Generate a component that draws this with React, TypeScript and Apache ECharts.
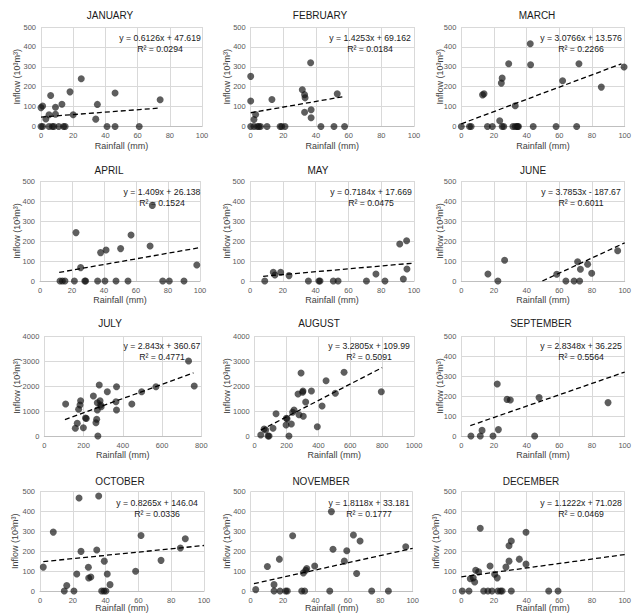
import React, { useEffect, useRef } from "react";
import * as echarts from "echarts";

const monthNames = ["JANUARY", "FEBRUARY", "MARCH", "APRIL", "MAY", "JUNE", "JULY", "AUGUST", "SEPTEMBER", "OCTOBER", "NOVEMBER", "DECEMBER"];

const janData = [[0, 95], [1, 103], [3, 38], [5, 59], [6, 156], [9, 97], [9, 62], [13, 112], [18, 174], [20, 59], [25, 240], [34, 37], [35, 111], [46, 168], [74, 134], [0, 0], [1, 0], [5, 0], [7, 0], [8, 0], [11, 0], [14, 0], [15, 0], [41, 0], [46, 0], [61, 0]];
const febData = [[0, 252], [0, 128], [2, 35], [3, 60], [13, 136], [31.6, 185], [33, 160], [33.3, 144], [36.7, 320], [33, 72], [37, 84], [37, 44], [53, 164], [0, 0], [2, 0], [4, 0], [5, 0], [6, 0], [10, 0], [18, 0], [19, 0], [21, 0], [43, 0], [51, 0], [57.5, 0]];
const marData = [[13, 159], [13.9, 164], [24.5, 218], [25, 243], [29, 315], [33, 104], [23.5, 29], [42.2, 416], [42.4, 310], [62, 230], [72, 315], [85.7, 198], [99.6, 299], [0, 0], [5, 0], [6, 0], [16, 0], [19, 0], [25, 0], [26, 0], [31.6, 0], [33, 0], [34, 0], [34.5, 0], [35, 0], [44, 0], [58, 0], [70.6, 0]];
const aprData = [[22.5, 242], [25.4, 67], [37.9, 142], [41.3, 155], [50.4, 162], [56.9, 230], [68.8, 175], [70.2, 378], [98, 80], [12.5, 0], [14, 0], [15.6, 0], [21.5, 0], [28, 0], [28.5, 0], [36, 0], [40.6, 0], [47.5, 0], [55, 0], [76.7, 0], [80.8, 0], [90, 0]];
const mayData = [[14.2, 44], [15.2, 30], [18.7, 44], [23.8, 27], [76.8, 35], [91.3, 185], [95.5, 201], [95.7, 60], [93.5, 10], [9, 0], [35.6, 0], [42, 0], [42.7, 0], [50.8, 0], [53.7, 0], [71, 0], [82.3, 0]];
const junData = [[16.3, 35], [22.4, 0], [26.5, 104], [58.4, 34], [64, 0], [69, 0], [71.2, 96], [72.4, 0], [72.9, 59], [77.3, 84], [79.8, 39], [95.7, 151]];
const julData = [[108.7, 1280], [158, 307], [168, 507], [175, 1067], [182, 1240], [185, 1413], [199, 333], [210, 720], [214, 700], [250, 1600], [263, 533], [267, 667], [270, 1040], [270, 1333], [273, 0], [280, 2040], [284, 1413], [287, 1240], [290, 1173], [321, 1773], [365, 1373], [368, 1973], [368, 1040], [446, 1280], [496, 1773], [569, 1973], [735, 3000], [764, 2000]];
const augData = [[38, 40], [59, 280], [69, 240], [84, 0], [90, 0], [115, 307], [134, 893], [197, 440], [199, 707], [203, 693], [215, 0], [230, 480], [238, 947], [247, 1040], [278, 853], [272, 1680], [291, 2520], [301, 1747], [303, 1800], [305, 787], [320, 1360], [356, 1800], [393, 373], [423, 1200], [448, 2213], [506, 1707], [561, 2547], [795, 1773]];
const sepData = [[5.9, 0], [11.6, 0], [12.7, 28], [19.4, 0], [22, 260], [22.7, 32], [28, 183], [30, 180], [44.9, 0], [47.6, 192], [89.8, 167]];
const octData = [[2, 120], [8.1, 296], [14.8, 0], [16.3, 28], [20.7, 0], [22.4, 85], [23.8, 467], [25, 199], [29.5, 119], [29.7, 65], [31, 70], [34.6, 206], [35.8, 477], [37.6, 0], [39, 0], [40.2, 0], [39.2, 150], [41, 85], [42.7, 32], [58.3, 99], [61.6, 279], [73.8, 154], [85.6, 216], [88.6, 263]];
const novData = [[3.1, 7], [10.3, 123], [14.4, 32], [14.4, 0], [17.7, 160], [18.1, 0], [21.6, 0], [22.6, 0], [25.9, 278], [31.5, 0], [32.5, 91], [33.3, 0], [34, 104], [34.6, 113], [39.5, 126], [48.8, 0], [49.8, 399], [50.8, 210], [57.8, 150], [59.3, 202], [63.4, 281], [65.4, 88], [67.5, 251], [74.7, 0], [85, 0], [95.7, 222]];
const decData = [[0.6, 0], [4.7, 0], [5.5, 62], [7.3, 66], [8.2, 45], [8.8, 104], [10.6, 96], [11.6, 315], [13.7, 0], [16.3, 0], [17.6, 126], [18.8, 0], [20.4, 84], [22, 66], [22.4, 0], [24, 0], [25, 0], [27.3, 120], [29.2, 150], [29.2, 227], [30.6, 0], [30.6, 251], [35.5, 160], [39.6, 295], [39.6, 135], [53.5, 0], [59.2, 0]];

const monthData = [janData, febData, marData, aprData, mayData, junData, julData, augData, sepData, octData, novData, decData];

const slopes = [0.6126, 1.4253, 3.0766, 1.409, 0.7184, 3.7853, 2.843, 3.2805, 2.8348, 0.8265, 1.8118, 1.1222];
const intercepts = [47.619, 69.162, 13.576, 26.138, 17.669, -187.67, 360.67, 109.99, 36.225, 146.04, 33.181, 71.028];
const equations = [
  "y = 0.6126x + 47.619", "y = 1.4253x + 69.162", "y = 3.0766x + 13.576",
  "y = 1.409x + 26.138", "y = 0.7184x + 17.669", "y = 3.7853x - 187.67",
  "y = 2.843x + 360.67", "y = 3.2805x + 109.99", "y = 2.8348x + 36.225",
  "y = 0.8265x + 146.04", "y = 1.8118x + 33.181", "y = 1.1222x + 71.028",
];
const rSquared = ["0.0294", "0.0184", "0.2266", "0.1524", "0.0475", "0.6011", "0.4771", "0.5091", "0.5564", "0.0336", "0.1777", "0.0469"];
const trendStart = [0, 0, 0, 12, 8, 49.6, 105, 38, 5.5, 2, 2, 0];
const trendEnd = [74, 57, 98, 100, 100, 100, 760, 800, 100, 100, 100, 100];
const xMax = [100, 100, 100, 100, 100, 100, 800, 1000, 100, 100, 100, 100];
const xInterval = [20, 20, 20, 20, 20, 20, 200, 200, 20, 20, 20, 20];
const yMax = [500, 500, 500, 500, 500, 500, 4000, 4000, 500, 500, 500, 500];
const yInterval = [100, 100, 100, 100, 100, 100, 1000, 1000, 100, 100, 100, 100];

const xAxisName = "Rainfall (mm)";
const yAxisName = "Inflow (10³m³)";

// layout (pixels)
const rows = [
  { t: 27, b: 126.5, ty: 15, xn: 146, ey: 38 },
  { t: 181, b: 281, ty: 170, xn: 300, ey: 192 },
  { t: 336, b: 436, ty: 323, xn: 455, ey: 346 },
  { t: 491.5, b: 591, ty: 481, xn: 608, ey: 503 },
];
const cols = [
  { l: 41, r: 202, tx: 110, ex: 160, yn: 17 },
  { l: 250.7, r: 414, tx: 320, ex: 370, yn: 227 },
  { l: 461.3, r: 624.7, tx: 537, ex: 581, yn: 440 },
  { l: 40, r: 200, tx: 109, ex: 162, yn: 17 },
  { l: 250, r: 414, tx: 318, ex: 371, yn: 227 },
  { l: 461.3, r: 624.7, tx: 533, ex: 581, yn: 440 },
  { l: 44.3, r: 201.3, tx: 110, ex: 162, yn: 17 },
  { l: 254.7, r: 414, tx: 319, ex: 369, yn: 227 },
  { l: 461.3, r: 624.7, tx: 541, ex: 581, yn: 440 },
  { l: 40, r: 204, tx: 120, ex: 157, yn: 15 },
  { l: 250.7, r: 412.7, tx: 321, ex: 369, yn: 227 },
  { l: 461.3, r: 624.7, tx: 531, ex: 581, yn: 436 },
];

const FONT = "'Liberation Sans', Arial, sans-serif";

export default function App() {
  const ref = useRef<HTMLDivElement>(null);
  useEffect(() => {
    if (!ref.current) return;
    const chart = echarts.init(ref.current, null, { renderer: "svg" });
    const grid: any[] = [];
    const xAxis: any[] = [];
    const yAxis: any[] = [];
    const series: any[] = [];
    const graphic: any[] = [];
    const plain = (v: number) => String(v);
    for (let i = 0; i < 12; i++) {
      const row = rows[Math.floor(i / 3)];
      const c = cols[i];
      grid.push({ left: c.l, top: row.t, width: c.r - c.l, height: row.b - row.t, containLabel: false });
      xAxis.push({
        gridIndex: i, type: "value", min: 0, max: xMax[i], interval: xInterval[i],
        axisLine: { show: true, lineStyle: { color: "#bfbfbf", width: 1 } },
        axisTick: { show: false },
        splitLine: { show: true, lineStyle: { color: "#d9d9d9", width: 1 } },
        axisLabel: { color: "#595959", fontSize: 7.5, fontFamily: FONT, margin: 5, formatter: plain },
      });
      yAxis.push({
        gridIndex: i, type: "value", min: 0, max: yMax[i], interval: yInterval[i],
        axisLine: { show: false },
        axisTick: { show: false },
        splitLine: { show: true, lineStyle: { color: "#d9d9d9", width: 1 } },
        axisLabel: { color: "#595959", fontSize: 7.5, fontFamily: FONT, margin: 5, formatter: plain },
      });
      series.push({
        type: "scatter", xAxisIndex: i, yAxisIndex: i, data: monthData[i],
        symbolSize: 7, itemStyle: { color: "#111111", opacity: 0.68 },
      });
      const x0 = trendStart[i], x1 = trendEnd[i];
      series.push({
        type: "line", xAxisIndex: i, yAxisIndex: i, symbol: "none",
        data: [[x0, slopes[i] * x0 + intercepts[i]], [x1, slopes[i] * x1 + intercepts[i]]],
        lineStyle: { color: "#000000", width: 1.3, type: [5, 3] },
        z: 3,
      });
      graphic.push({
        type: "text", x: c.tx, y: row.ty,
        style: { text: monthNames[i], fill: "#1a1a1a", fontSize: 10, fontFamily: FONT, align: "center", verticalAlign: "middle" },
      });
      graphic.push({
        type: "text", x: (c.l + c.r) / 2, y: row.xn,
        style: { text: xAxisName, fill: "#404040", fontSize: 9, fontFamily: FONT, align: "center", verticalAlign: "middle" },
      });
      graphic.push({
        type: "text", x: c.yn, y: (row.t + row.b) / 2, rotation: Math.PI / 2,
        style: { text: yAxisName, fill: "#404040", fontSize: 9, fontFamily: FONT, align: "center", verticalAlign: "middle" },
      });
      graphic.push({
        type: "text", x: c.ex, y: row.ey, z: 10,
        style: { text: equations[i], fill: "#1a1a1a", fontSize: 8.7, fontFamily: FONT, align: "center", verticalAlign: "middle" },
      });
      graphic.push({
        type: "text", x: c.ex, y: row.ey + 10.5, z: 10,
        style: { text: "R² = " + rSquared[i], fill: "#1a1a1a", fontSize: 8.7, fontFamily: FONT, align: "center", verticalAlign: "middle" },
      });
    }
    chart.setOption({
      animation: false,
      backgroundColor: "#ffffff",
      grid, xAxis, yAxis, series, graphic,
    });
    return () => chart.dispose();
  }, []);
  return <div ref={ref} style={{ position: "fixed", left: 0, top: 0, width: 642, height: 616 }} />;
}
